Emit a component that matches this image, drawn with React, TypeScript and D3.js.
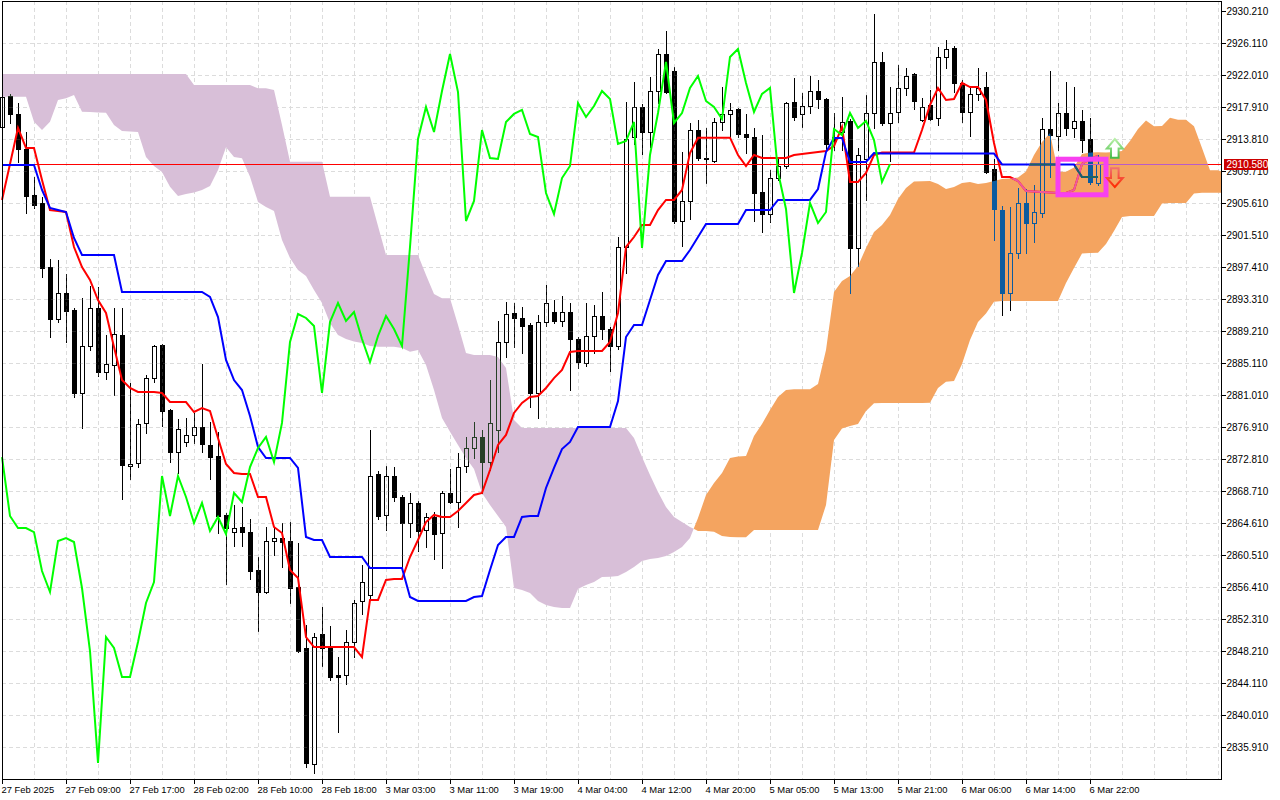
import { useEffect, useRef } from "react";
import * as d3 from "d3";

// XAUUSD H1 with Ichimoku (9/26/52), 27 Feb - 6 Mar 2025
const open = [
  2915.34, 2919.32, 2917.02, 2912.53, 2906.64, 2905.62, 2897.41, 2890.75, 2894.08, 2891.90,
  2881.27, 2887.29, 2892.15, 2883.95, 2884.86, 2888.70, 2871.91, 2872.30, 2877.43, 2883.18,
  2887.42, 2879.09, 2873.70, 2874.99, 2875.89, 2876.91, 2874.61, 2873.19, 2865.64, 2863.45,
  2864.10, 2863.45, 2858.59, 2855.77, 2862.30, 2862.68, 2862.30, 2856.41, 2848.59, 2833.74,
  2850.39, 2848.59, 2845.14, 2845.14, 2849.36, 2854.62, 2855.39, 2870.89, 2865.64, 2870.63,
  2867.94, 2864.62, 2867.18, 2863.71, 2865.38, 2863.33, 2868.46, 2867.30, 2871.91, 2874.22,
  2875.63, 2872.42, 2876.53, 2887.80, 2891.52, 2890.88, 2889.98, 2881.27, 2890.36, 2891.64,
  2890.49, 2891.64, 2888.19, 2885.12, 2888.57, 2891.13, 2889.47, 2887.29, 2899.97, 2914.07,
  2917.91, 2914.71, 2919.96, 2924.70, 2922.52, 2903.30, 2905.87, 2914.96, 2911.38, 2910.99,
  2915.99, 2917.02, 2917.66, 2914.45, 2914.07, 2907.02, 2904.20, 2908.81, 2910.35, 2918.55,
  2917.02, 2918.04, 2919.96, 2918.94, 2914.07, 2914.71, 2916.12, 2899.84, 2911.25, 2917.14,
  2923.68, 2915.86, 2917.27, 2920.35, 2922.14, 2916.24, 2918.17, 2916.50, 2924.32, 2925.47,
  2920.99, 2917.27, 2919.58, 2920.47, 2909.97, 2904.71, 2894.08, 2899.20, 2905.62, 2903.05,
  2904.33, 2915.09, 2914.19, 2917.14, 2915.22, 2916.12, 2913.81, 2908.17,
];
const high = [
  2919.71, 2919.58, 2918.43, 2914.70, 2908.94, 2906.38, 2898.44, 2898.31, 2896.52, 2892.15,
  2893.43, 2894.98, 2894.85, 2888.70, 2892.15, 2892.15, 2882.55, 2877.94, 2883.57, 2887.42,
  2887.55, 2879.22, 2877.94, 2878.06, 2878.71, 2884.99, 2877.55, 2876.27, 2865.90, 2866.92,
  2866.66, 2865.13, 2860.25, 2864.10, 2864.10, 2864.62, 2864.74, 2862.05, 2851.54, 2850.52,
  2853.85, 2851.41, 2847.44, 2850.90, 2854.75, 2859.23, 2876.53, 2871.27, 2871.91, 2871.78,
  2868.20, 2868.46, 2867.43, 2865.90, 2866.02, 2868.71, 2871.53, 2873.58, 2875.63, 2877.55,
  2876.53, 2882.93, 2890.49, 2892.92, 2892.80, 2892.28, 2890.24, 2891.26, 2895.11, 2893.18,
  2893.69, 2892.80, 2888.44, 2892.80, 2892.54, 2894.21, 2889.72, 2901.25, 2918.55, 2921.11,
  2918.30, 2921.75, 2925.34, 2927.65, 2923.03, 2912.14, 2915.86, 2916.24, 2915.22, 2916.50,
  2920.47, 2918.42, 2917.78, 2917.02, 2915.22, 2914.32, 2909.84, 2911.50, 2918.55, 2921.63,
  2919.71, 2921.88, 2921.37, 2919.06, 2917.14, 2919.19, 2916.37, 2912.66, 2919.45, 2929.83,
  2924.96, 2920.47, 2923.29, 2922.91, 2922.27, 2919.06, 2920.09, 2925.60, 2926.50, 2925.73,
  2921.37, 2920.60, 2922.91, 2922.39, 2911.25, 2905.23, 2905.10, 2907.53, 2907.40, 2907.92,
  2916.50, 2922.52, 2918.42, 2921.11, 2920.47, 2917.53, 2916.50, 2911.76,
];
const low = [
  2914.83, 2915.86, 2910.86, 2904.33, 2904.97, 2896.13, 2888.44, 2890.36, 2887.80, 2880.75,
  2876.78, 2886.78, 2883.44, 2883.06, 2881.01, 2867.69, 2870.25, 2871.78, 2876.15, 2882.67,
  2877.04, 2872.42, 2871.02, 2874.48, 2874.87, 2873.70, 2870.25, 2863.33, 2856.80, 2861.66,
  2861.66, 2857.44, 2850.77, 2855.65, 2860.51, 2858.97, 2854.36, 2848.08, 2833.35, 2832.58,
  2846.29, 2844.50, 2837.83, 2843.99, 2847.44, 2852.95, 2855.00, 2865.13, 2863.71, 2867.43,
  2858.97, 2862.82, 2861.02, 2861.53, 2860.00, 2858.84, 2867.18, 2864.10, 2871.14, 2872.94,
  2868.46, 2871.40, 2873.70, 2885.88, 2887.16, 2886.40, 2879.47, 2878.06, 2889.85, 2890.24,
  2889.85, 2881.65, 2884.47, 2884.73, 2886.40, 2888.19, 2884.08, 2886.91, 2896.64, 2913.17,
  2911.89, 2912.79, 2918.42, 2919.70, 2903.05, 2900.10, 2903.56, 2911.12, 2908.18, 2910.86,
  2914.96, 2914.07, 2914.07, 2912.02, 2903.30, 2901.89, 2903.18, 2908.56, 2910.10, 2916.24,
  2915.35, 2917.14, 2917.78, 2912.53, 2912.40, 2912.40, 2894.08, 2897.54, 2906.00, 2915.22,
  2915.60, 2910.99, 2915.99, 2919.45, 2917.66, 2916.12, 2916.24, 2915.60, 2922.91, 2919.83,
  2915.99, 2914.19, 2918.81, 2909.45, 2900.87, 2891.26, 2891.90, 2898.56, 2899.20, 2900.61,
  2903.82, 2908.94, 2912.40, 2914.32, 2914.07, 2912.14, 2908.05, 2907.92,
];
const close = [
  2919.19, 2917.02, 2912.53, 2906.51, 2905.36, 2897.28, 2890.75, 2894.08, 2891.77, 2881.27,
  2887.29, 2892.15, 2883.95, 2884.99, 2888.83, 2872.04, 2872.17, 2877.30, 2883.18, 2887.29,
  2878.96, 2873.70, 2876.66, 2875.89, 2876.91, 2874.74, 2873.06, 2865.51, 2863.97, 2863.97,
  2863.45, 2858.46, 2855.77, 2862.30, 2862.68, 2862.17, 2856.28, 2848.21, 2833.86, 2850.00,
  2848.59, 2844.88, 2844.88, 2849.36, 2854.36, 2857.05, 2870.63, 2865.51, 2870.63, 2867.94,
  2864.62, 2867.18, 2863.58, 2865.38, 2863.20, 2868.46, 2867.30, 2871.78, 2874.22, 2875.63,
  2872.42, 2877.43, 2887.80, 2891.39, 2890.88, 2889.85, 2881.27, 2890.36, 2892.80, 2890.49,
  2891.64, 2888.19, 2885.24, 2888.57, 2891.13, 2889.47, 2887.29, 2899.97, 2913.81, 2917.91,
  2914.71, 2919.96, 2924.70, 2919.83, 2903.30, 2905.87, 2914.96, 2911.38, 2911.25, 2915.99,
  2917.02, 2917.53, 2914.45, 2914.07, 2906.89, 2904.20, 2908.81, 2910.35, 2918.42, 2916.63,
  2918.04, 2919.96, 2918.94, 2913.17, 2913.55, 2915.99, 2899.84, 2911.76, 2917.14, 2923.68,
  2915.86, 2917.14, 2920.35, 2921.88, 2918.68, 2917.91, 2916.37, 2924.32, 2925.34, 2920.99,
  2917.27, 2919.58, 2920.35, 2909.58, 2904.84, 2894.08, 2899.20, 2905.62, 2903.05, 2904.46,
  2915.09, 2914.32, 2917.14, 2915.22, 2916.12, 2913.68, 2908.30, 2910.58,
];

const tenkan = [
  2906.00, 2910.61, 2915.22, 2912.66, 2912.66, 2908.56, 2904.71, 2904.58, 2904.46, 2899.97,
  2897.41, 2895.75, 2893.18, 2891.52, 2887.16, 2882.93, 2881.91, 2881.40, 2881.40, 2881.40,
  2881.27, 2880.11, 2880.11, 2880.11, 2878.83, 2879.34, 2878.96, 2875.50, 2872.17, 2871.02,
  2870.89, 2870.89, 2867.94, 2867.94, 2864.10, 2863.33, 2858.59, 2857.57, 2850.00, 2848.72,
  2848.72, 2848.72, 2848.72, 2848.72, 2848.72, 2847.44, 2854.75, 2854.75, 2857.31, 2857.44,
  2857.44, 2860.25, 2862.43, 2864.74, 2865.64, 2865.38, 2865.38, 2866.15, 2867.18, 2868.20,
  2868.46, 2871.40, 2874.61, 2875.89, 2878.71, 2879.99, 2880.75, 2880.88, 2881.91, 2883.18,
  2884.21, 2886.52, 2886.65, 2886.65, 2886.65, 2886.65, 2887.80, 2891.52, 2899.97, 2901.25,
  2902.79, 2902.79, 2904.71, 2906.00, 2906.00, 2907.28, 2912.02, 2913.98, 2913.98, 2913.98,
  2913.98, 2913.98, 2911.76, 2910.35, 2911.76, 2911.38, 2911.38, 2911.38, 2911.38, 2911.76,
  2911.89, 2912.02, 2912.14, 2912.27, 2912.91, 2915.35, 2908.30, 2908.30, 2909.45, 2911.76,
  2912.08, 2912.08, 2912.08, 2912.08, 2912.08, 2914.96, 2918.17, 2920.35, 2918.81, 2918.94,
  2920.99, 2920.47, 2920.47, 2918.81, 2913.30, 2908.94, 2908.94, 2908.43, 2907.15, 2907.09,
  2907.02, 2906.96, 2906.89, 2906.89, 2907.28, 2910.61, 2911.25, 2911.63,
];
const kijun = [
  2910.48, 2910.48, 2910.48, 2910.48, 2910.48, 2907.28, 2904.97, 2904.71, 2904.46, 2901.13,
  2898.95, 2898.95, 2898.95, 2898.95, 2898.95, 2894.21, 2894.21, 2894.21, 2894.21, 2894.21,
  2894.21, 2894.21, 2894.21, 2894.21, 2894.21, 2894.21, 2893.57, 2891.00, 2885.50, 2882.93,
  2881.65, 2878.32, 2874.35, 2872.94, 2872.94, 2872.94, 2872.94, 2871.66, 2862.82, 2862.43,
  2862.43, 2860.25, 2860.25, 2860.25, 2860.25, 2860.25, 2858.84, 2858.84, 2858.84, 2858.84,
  2858.84, 2855.13, 2854.62, 2854.62, 2854.62, 2854.62, 2854.62, 2854.62, 2854.62, 2855.13,
  2855.26, 2858.59, 2861.79, 2862.82, 2862.82, 2865.38, 2865.51, 2865.51, 2869.10, 2871.66,
  2874.09, 2874.99, 2876.91, 2876.91, 2876.91, 2876.91, 2876.91, 2880.24, 2888.44, 2889.98,
  2889.98, 2893.18, 2896.39, 2898.18, 2898.18, 2898.18, 2899.59, 2901.25, 2902.92, 2902.92,
  2902.92, 2902.92, 2902.92, 2904.71, 2904.71, 2904.71, 2904.71, 2906.00, 2906.00, 2906.00,
  2906.00, 2906.00, 2907.40, 2912.14, 2913.94, 2913.94, 2910.86, 2910.86, 2910.86, 2912.02,
  2911.95, 2911.95, 2911.95, 2911.95, 2911.95, 2911.95, 2911.95, 2911.95, 2911.95, 2911.95,
  2911.95, 2911.95, 2911.95, 2911.95, 2911.95, 2910.55, 2910.55, 2910.55, 2910.55, 2910.55,
  2910.55, 2910.55, 2910.55, 2910.55, 2910.55, 2908.94, 2908.94, 2908.94,
];

// Senkou spans as plotted (already shifted 26 bars forward), bar 0..153
const spanA = [
  2919.23, 2919.23, 2919.23, 2919.23, 2916.03, 2914.96, 2916.03, 2918.81, 2919.03, 2919.45,
  2917.31, 2917.27, 2917.21, 2917.18, 2915.60, 2914.83, 2914.77, 2914.70, 2911.50, 2910.35,
  2909.58, 2907.70, 2906.51, 2906.76, 2906.96, 2907.28, 2907.79, 2909.84, 2912.75, 2911.50,
  2911.34, 2908.98, 2905.74, 2905.10, 2904.58, 2900.87, 2898.56, 2897.03, 2896.26, 2894.46,
  2892.80, 2890.24, 2888.70, 2888.19, 2887.87, 2887.67, 2887.29, 2887.20, 2887.20, 2887.20,
  2887.03, 2886.56, 2886.78, 2884.86, 2881.65, 2878.06, 2876.31, 2874.61, 2872.94, 2871.53,
  2868.46, 2866.92, 2865.51, 2864.10, 2856.28, 2856.03, 2855.64, 2854.62, 2854.10, 2853.85,
  2853.72, 2853.72, 2856.15, 2856.67, 2857.05, 2857.69, 2857.73, 2857.82, 2858.33, 2858.97,
  2859.74, 2860.00, 2860.13, 2860.38, 2860.90, 2861.53, 2862.68, 2865.25, 2868.20, 2869.73,
  2871.02, 2872.94, 2873.13, 2873.19, 2875.76, 2877.30, 2879.09, 2880.75, 2881.65, 2881.74,
  2881.74, 2881.74, 2882.42, 2886.78, 2894.21, 2895.62, 2896.26, 2897.54, 2899.84, 2901.89,
  2902.79, 2904.07, 2906.12, 2907.53, 2908.37, 2908.40, 2908.43, 2908.05, 2907.40, 2907.66,
  2908.17, 2908.30, 2908.05, 2908.17, 2908.43, 2908.69, 2908.75, 2908.88, 2909.65, 2911.76,
  2913.43, 2914.58, 2909.62, 2909.62, 2910.16, 2911.89, 2912.08, 2912.11, 2912.08, 2912.14,
  2912.27, 2913.55, 2915.09, 2916.18, 2915.44, 2915.48, 2916.54, 2916.28, 2916.28, 2915.44,
  2912.66, 2909.80, 2909.80, 2909.45,
];
const spanB = [
  2922.14, 2922.14, 2922.14, 2922.14, 2922.14, 2922.14, 2922.14, 2922.14, 2922.14, 2922.14,
  2922.14, 2922.14, 2922.14, 2922.14, 2922.14, 2922.14, 2922.14, 2922.14, 2922.14, 2922.14,
  2922.14, 2922.14, 2922.14, 2922.14, 2920.73, 2920.73, 2920.73, 2920.73, 2920.73, 2920.73,
  2920.73, 2920.73, 2920.31, 2920.31, 2920.09, 2915.60, 2910.90, 2910.90, 2910.90, 2910.90,
  2910.90, 2906.42, 2906.42, 2906.42, 2906.42, 2906.42, 2906.42, 2902.66, 2898.95, 2898.95,
  2898.95, 2898.95, 2898.95, 2896.39, 2893.95, 2893.40, 2893.40, 2889.98, 2886.39, 2886.14,
  2886.14, 2886.14, 2885.88, 2884.47, 2877.81, 2876.78, 2876.78, 2876.78, 2876.78, 2876.78,
  2876.78, 2876.78, 2876.78, 2876.78, 2876.78, 2876.78, 2876.78, 2876.78, 2876.78, 2875.50,
  2873.06, 2870.76, 2868.58, 2866.66, 2865.38, 2864.74, 2864.10, 2863.58, 2863.58, 2863.49,
  2862.94, 2862.82, 2862.78, 2862.78, 2863.71, 2863.71, 2863.71, 2863.71, 2863.71, 2863.71,
  2863.71, 2863.71, 2863.71, 2866.92, 2875.25, 2876.72, 2877.04, 2877.30, 2878.96, 2879.95,
  2879.99, 2879.99, 2879.99, 2879.99, 2879.99, 2879.99, 2880.03, 2881.91, 2882.71, 2882.80,
  2884.99, 2888.06, 2890.36, 2891.45, 2892.96, 2893.05, 2893.05, 2893.05, 2893.05, 2893.05,
  2893.05, 2893.05, 2893.05, 2895.36, 2897.28, 2899.14, 2899.20, 2899.24, 2900.36, 2902.02,
  2903.82, 2903.94, 2903.94, 2903.94, 2903.94, 2905.54, 2905.62, 2905.62, 2905.62, 2906.83,
  2906.93, 2906.93, 2906.93, 2906.93,
];

const priceTicks = [
  2930.21, 2926.11, 2922.01, 2917.91, 2913.81, 2909.71, 2905.61, 2901.51, 2897.41, 2893.31,
  2889.21, 2885.11, 2881.01, 2876.91, 2872.81, 2868.71, 2864.61, 2860.51, 2856.41, 2852.31,
  2848.21, 2844.11, 2840.01, 2835.91,
];
const timeLabels = [
  "27 Feb 2025", "27 Feb 09:00", "27 Feb 17:00", "28 Feb 02:00", "28 Feb 10:00", "28 Feb 18:00",
  "3 Mar 03:00", "3 Mar 11:00", "3 Mar 19:00", "4 Mar 04:00", "4 Mar 12:00", "4 Mar 20:00",
  "5 Mar 05:00", "5 Mar 13:00", "5 Mar 21:00", "6 Mar 06:00", "6 Mar 14:00", "6 Mar 22:00",
];
const labelEvery = 8;
const chikouShift = 26;
const lastPrice = 2910.58;
const boxBars = [132, 138];
const boxPrices = [2906.66, 2911.22];
const arrowBar = 139.1;
const upArrowTip = 2913.81;
const downArrowTip = 2907.66;

const W = 1280;
const H = 800;
const PL = 2;
const PR = 1222;
const PT = 1;
const PB = 780;
const FONT = "'Liberation Sans', Arial, sans-serif";

type CloudPt = { k: number; a: number; b: number };

// split the cloud where span A and span B cross
function cloudRuns() {
  const runs: { up: boolean; pts: CloudPt[] }[] = [];
  let cur: { up: boolean; pts: CloudPt[] } | null = null;
  spanA.forEach((a, i) => {
    const p = { k: i, a, b: spanB[i] };
    const up = a >= spanB[i];
    if (!cur) {
      cur = { up, pts: [p] };
      runs.push(cur);
      return;
    }
    if (up !== cur.up) {
      const q = cur.pts[cur.pts.length - 1];
      const d0 = q.a - q.b;
      const d1 = p.a - p.b;
      const t = d0 / (d0 - d1);
      const v = q.a + t * (p.a - q.a);
      const c = { k: q.k + t, a: v, b: v };
      cur.pts.push(c);
      cur = { up, pts: [c, p] };
      runs.push(cur);
    } else {
      cur.pts.push(p);
    }
  });
  return runs;
}

function rectPath(x0: number, y0: number, x1: number, y1: number, rev = false) {
  if (y1 <= y0 || x1 <= x0) return "";
  return rev
    ? `M${x0},${y0}V${y1}H${x1}V${y0}Z`
    : `M${x0},${y0}H${x1}V${y1}H${x0}Z`;
}

export default function App() {
  const svgRef = useRef<SVGSVGElement>(null);

  useEffect(() => {
    if (!svgRef.current) return;
    const svg = d3.select(svgRef.current);
    svg.selectAll("*").remove();

    const x = d3.scaleLinear().domain([0, 152.5]).range([PL, PR]);
    const y = d3.scaleLinear().domain([2835.91, 2930.21]).range([747, 11]);

    const defs = svg.append("defs");
    defs
      .append("clipPath")
      .attr("id", "plot")
      .append("rect")
      .attr("x", 0)
      .attr("y", PT)
      .attr("width", PR)
      .attr("height", PB - PT);

    svg.append("rect").attr("width", W).attr("height", H).attr("fill", "#fff");

    const plot = svg.append("g").attr("clip-path", "url(#plot)");
    plot.append("rect").attr("width", W).attr("height", H).attr("fill", "#fff");

    // grid
    const grid = plot
      .append("g")
      .attr("stroke", "#dcdcdc")
      .attr("stroke-dasharray", "4,3")
      .attr("shape-rendering", "crispEdges");
    d3.range(4, 153, 4).forEach((k) => {
      grid
        .append("line")
        .attr("x1", x(k) + 0.5)
        .attr("x2", x(k) + 0.5)
        .attr("y1", PT)
        .attr("y2", PB);
    });
    priceTicks.slice(1).forEach((p) => {
      const yy = Math.round(y(p)) + 0.5;
      grid.append("line").attr("x1", PL).attr("x2", PR).attr("y1", yy).attr("y2", yy);
    });

    // kumo
    const runs = cloudRuns();
    const area = d3
      .area<CloudPt>()
      .x((d) => x(d.k))
      .y0((d) => y(d.a))
      .y1((d) => y(d.b));
    runs.forEach((r) => {
      plot
        .append("path")
        .attr("d", area(r.pts))
        .attr("fill", r.up ? "#F4A460" : "#D8BFD8");
    });
    const orangeClip = defs.append("clipPath").attr("id", "orangeKumo");
    runs
      .filter((r) => r.up)
      .forEach((r) => orangeClip.append("path").attr("d", area(r.pts)));

    // candles (inverted over the kumo, like the terminal does)
    const cg = plot
      .append("g")
      .attr("fill", "#fff")
      .attr("shape-rendering", "crispEdges")
      .style("mix-blend-mode", "difference");
    open.forEach((o, i) => {
      const c = close[i];
      const cx = Math.round(x(i));
      const yt = Math.round(y(Math.max(o, c)));
      const yb = Math.max(Math.round(y(Math.min(o, c))), yt);
      const yh = Math.round(y(high[i]));
      const yl = Math.round(y(low[i]));
      let d =
        rectPath(cx, yh, cx + 1, yt) +
        rectPath(cx, yb + 1, cx + 1, yl + 1) +
        rectPath(cx - 2, yt, cx + 3, yb + 1);
      if (c > o && yb - yt >= 2) d += rectPath(cx - 1, yt + 1, cx + 2, yb, true);
      cg.append("path").attr("d", d);
    });

    const line = d3
      .line<number>()
      .x((_, i) => x(i))
      .y((d) => y(d));
    const yLast = Math.round(y(lastPrice)) + 0.5;

    const drawPriceLine = (g: d3.Selection<SVGGElement, unknown, null, undefined>, color: string) =>
      g
        .append("line")
        .attr("x1", PL)
        .attr("x2", PR)
        .attr("y1", yLast)
        .attr("y2", yLast)
        .attr("stroke", color)
        .attr("shape-rendering", "crispEdges");
    const drawLine = (
      g: d3.Selection<SVGGElement, unknown, null, undefined>,
      data: number[],
      color: string,
    ) =>
      g
        .append("path")
        .attr("d", line(data))
        .attr("fill", "none")
        .attr("stroke", color)
        .attr("stroke-width", 2);

    const lines = plot.append("g");
    drawPriceLine(lines, "#ff0000");
    drawLine(lines, tenkan, "#ff0000");
    drawLine(lines, kijun, "#0000ff");

    // colours as they come out on top of the orange kumo
    const over = plot.append("g").attr("clip-path", "url(#orangeKumo)");
    over.append("rect").attr("width", 0).attr("height", 0);
    drawPriceLine(over, "#b85cc8");
    drawLine(over, tenkan, "#ee5a9e");
    drawLine(over, kijun, "#1e6363");

    // chikou span = close drawn 26 bars back
    drawLine(lines.append("g"), close.slice(chikouShift), "#00ff00");

    // signal box
    plot
      .append("rect")
      .attr("x", x(boxBars[0]))
      .attr("y", y(boxPrices[1]))
      .attr("width", x(boxBars[1]) - x(boxBars[0]))
      .attr("height", y(boxPrices[0]) - y(boxPrices[1]))
      .attr("fill", "none")
      .attr("stroke", "#f840f0")
      .attr("stroke-width", 5);

    // arrows
    const gUp = defs.append("linearGradient").attr("id", "gUp").attr("x1", 0).attr("x2", 0).attr("y1", 0).attr("y2", 1);
    gUp.append("stop").attr("offset", 0).attr("stop-color", "#b8f0a8");
    gUp.append("stop").attr("offset", 1).attr("stop-color", "#48bc48");
    const gDn = defs.append("linearGradient").attr("id", "gDn").attr("x1", 0).attr("x2", 0).attr("y1", 0).attr("y2", 1);
    gDn.append("stop").attr("offset", 0).attr("stop-color", "#f07070");
    gDn.append("stop").attr("offset", 1).attr("stop-color", "#ff2a00");

    const ax = x(arrowBar);
    const ty = y(upArrowTip);
    plot
      .append("path")
      .attr(
        "d",
        `M${ax},${ty}L${ax + 8},${ty + 9.5}H${ax + 3.8}V${ty + 18.7}H${ax - 3.8}V${ty + 9.5}H${ax - 8}Z`,
      )
      .attr("fill", "#fff")
      .attr("stroke", "url(#gUp)")
      .attr("stroke-width", 2);
    const by = y(downArrowTip);
    plot
      .append("path")
      .attr(
        "d",
        `M${ax},${by}L${ax + 8},${by - 9}H${ax + 3.8}V${by - 18.7}H${ax - 3.8}V${by - 9}H${ax - 8}Z`,
      )
      .attr("fill", "none")
      .attr("stroke", "url(#gDn)")
      .attr("stroke-width", 2);

    // frame
    svg
      .append("rect")
      .attr("x", PL + 0.5)
      .attr("y", PT + 0.5)
      .attr("width", PR - PL - 1)
      .attr("height", PB - PT - 1)
      .attr("fill", "none")
      .attr("stroke", "#000")
      .attr("shape-rendering", "crispEdges");

    // price axis
    const yAxis = svg.append("g").attr("font-family", FONT).attr("font-size", 10);
    priceTicks.forEach((p) => {
      const yy = Math.round(y(p)) + 0.5;
      yAxis
        .append("line")
        .attr("x1", PR - 1)
        .attr("x2", PR + 4)
        .attr("y1", yy)
        .attr("y2", yy)
        .attr("stroke", "#000")
        .attr("shape-rendering", "crispEdges");
      yAxis
        .append("text")
        .attr("x", PR + 4.5)
        .attr("y", yy)
        .attr("dominant-baseline", "central")
        .attr("fill", "#000")
        .text(p.toFixed(3));
    });

    // time axis
    const xAxis = svg.append("g").attr("font-family", FONT).attr("font-size", 9.4);
    timeLabels.forEach((t, j) => {
      const xx = Math.round(x(j * labelEvery)) + 0.5;
      xAxis
        .append("line")
        .attr("x1", xx)
        .attr("x2", xx)
        .attr("y1", PB - 1)
        .attr("y2", PB + 4)
        .attr("stroke", "#000")
        .attr("shape-rendering", "crispEdges");
      xAxis
        .append("text")
        .attr("x", xx - 1)
        .attr("y", 793)
        .attr("fill", "#000")
        .text(t);
    });

    // last price tag
    svg
      .append("rect")
      .attr("x", PR + 2)
      .attr("y", yLast - 5.5)
      .attr("width", 44)
      .attr("height", 11)
      .attr("fill", "#cc0000");
    svg
      .append("text")
      .attr("x", PR + 4.5)
      .attr("y", yLast)
      .attr("dominant-baseline", "central")
      .attr("font-family", FONT)
      .attr("font-size", 10)
      .attr("fill", "#fff")
      .text(lastPrice.toFixed(3));
  }, []);

  return (
    <svg
      ref={svgRef}
      width={W}
      height={H}
      style={{ position: "absolute", left: 0, top: 0, display: "block" }}
    />
  );
}
